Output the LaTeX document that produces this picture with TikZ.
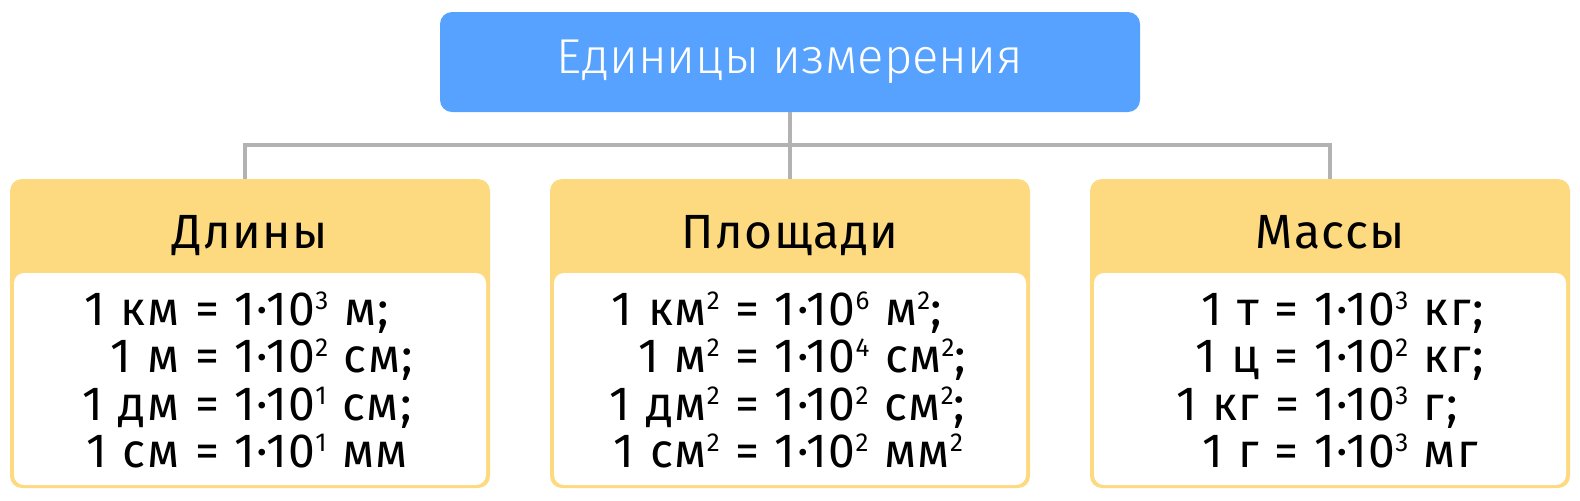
\documentclass[tikz,border=0pt]{standalone}
\usepackage{fontspec}
\setmainfont{Fira Sans}[LetterSpace=3, WordSpace=1.1]
\newfontfamily\titlefont{Fira Sans Light}
\usepackage{tikz}
\usetikzlibrary{positioning}
\usepackage{xcolor}
\definecolor{titleblue}{RGB}{88,162,255}
\definecolor{headyellow}{RGB}{253,218,128}
\definecolor{linkgray}{RGB}{178,178,178}
\newcommand{\pw}[1]{\smash{\raisebox{8pt}{\fontsize{13}{13}\selectfont #1}}}

\begin{document}
\begin{tikzpicture}[x=0.5pt, y=-0.5pt,
  every node/.style={inner sep=0pt},
  title/.style={rounded corners=6pt, fill=titleblue, minimum width=350pt, minimum height=50pt, text=white, font=\titlefont\fontsize{24.5}{24.5}\selectfont},
  group/.style={rounded corners=6pt, fill=headyellow, minimum width=240pt, minimum height=154.5pt},
  body/.style={rounded corners=5pt, fill=white, minimum width=236pt, minimum height=106pt},
  list/.style={align=center, font=\fontsize{24}{23.75}\selectfont},
  head/.style={anchor=base, font=\fontsize{24}{24}\selectfont},
  link/.style={draw=linkgray, line width=2pt},
]
\useasboundingbox (0,0) rectangle (1580,500);
\node[title] (units) at (790,62) {Единицы измерения};
% three groups
\node[group] (len) at (250,333.5) {};
\node[group] (area) at (790,333.5) {};
\node[group] (mass) at (1330,333.5) {};
\node[body] (lenbody) at (250,379) {};
\node[body] (areabody) at (790,379) {};
\node[body] (massbody) at (1330,379) {};
\node[head] (lenhead) at (250,248) {Длины};
\node[head] (areahead) at (790,248) {Площади};
\node[head] (masshead) at (1330,248) {Массы};
\node[list] (lenlist) at (248,387) {\begin{tabular}{@{}r@{\ =\ }l@{}}
1 км & 1·10\pw{3} м;\\
1 м & 1·10\pw{2} см;\\
1 дм & 1·10\pw{1} см;\\
1 см & 1·10\pw{1} мм
\end{tabular}};
\node[list] (arealist) at (788,387) {\begin{tabular}{@{}r@{\ =\ }l@{}}
1 км\pw{2} & 1·10\pw{6} м\pw{2};\\
1 м\pw{2} & 1·10\pw{4} см\pw{2};\\
1 дм\pw{2} & 1·10\pw{2} см\pw{2};\\
1 см\pw{2} & 1·10\pw{2} мм\pw{2}
\end{tabular}};
\node[list] (masslist) at (1330,387) {\begin{tabular}{@{}r@{\ =\ }l@{}}
1 т & 1·10\pw{3} кг;\\
1 ц & 1·10\pw{2} кг;\\
1 кг & 1·10\pw{3} г;\\
1 г & 1·10\pw{3} мг
\end{tabular}};
% connectors
\coordinate (bus) at (790,145);
\draw[link] (units.south) -- (area.north);
\draw[link] ([xshift=-2.5pt]len.north) |- (bus) -| (mass.north);
\end{tikzpicture}
\end{document}
